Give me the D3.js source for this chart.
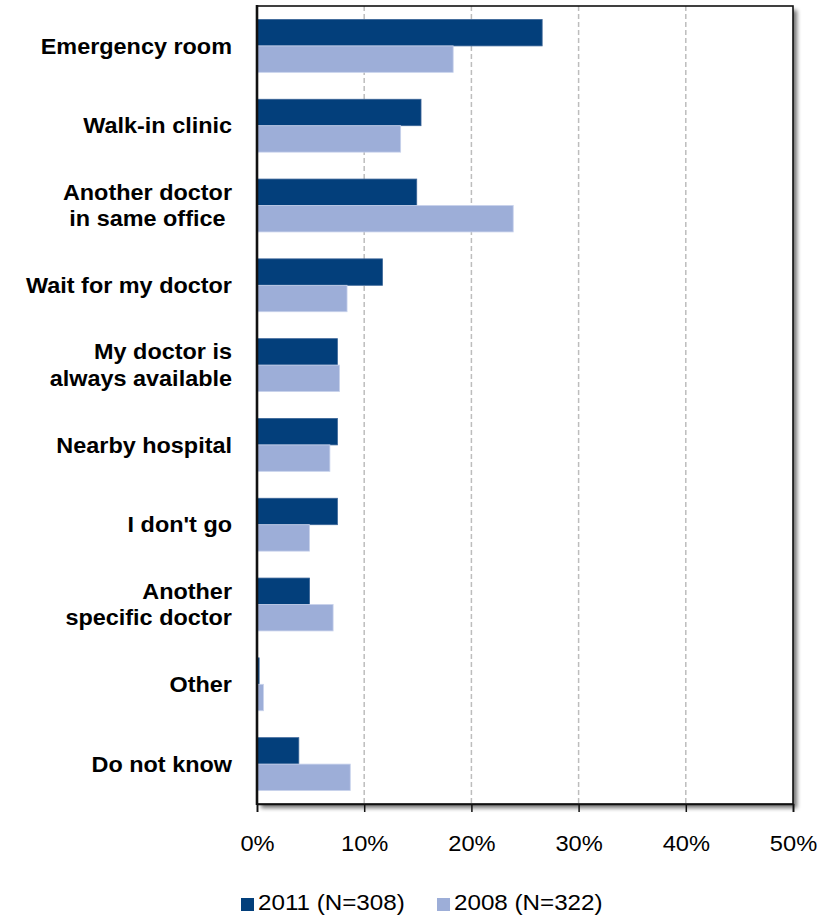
<!DOCTYPE html>
<html>
<head>
<meta charset="utf-8">
<script src="https://cdn.jsdelivr.net/npm/d3@7/dist/d3.min.js"></script>
<style>
  html, body { margin: 0; padding: 0; background: #ffffff; }
  svg { display: block; }
  text { font-family: "Liberation Sans", Arial, sans-serif; }
</style>
</head>
<body>
<svg id="chart" width="835" height="917"></svg>
<script>
// ---- Data ----
const categories = [
  ["Emergency room"],
  ["Walk-in clinic"],
  ["Another doctor", "in same office "],
  ["Wait for my doctor"],
  ["My doctor is", "always available"],
  ["Nearby hospital"],
  ["I don't go"],
  ["Another", "specific doctor"],
  ["Other"],
  ["Do not know"]
];
const seriesNames = ["2011 (N=308)", "2008 (N=322)"];
const values2011 = [26.6, 15.3, 14.9, 11.7, 7.5, 7.5, 7.5, 4.9, 0.2, 3.9];
const values2008 = [18.3, 13.4, 23.9, 8.4, 7.7, 6.8, 4.9, 7.1, 0.6, 8.7];
const xTicks = [0, 10, 20, 30, 40, 50];
const colors = ["#033f7b", "#9daed8"];

// ---- Layout ----
const svg = d3.select("#chart");
const plotLeft = 257, plotRight = 793, plotTop = 6, plotBottom = 804;
const sx = 1.09; // horizontal text stretch seen in the reference

const defs = svg.append("defs");
const f = defs.append("filter").attr("id", "shadow")
  .attr("x", "-5%").attr("y", "-5%").attr("width", "115%").attr("height", "115%");
f.append("feGaussianBlur").attr("in", "SourceAlpha").attr("stdDeviation", 2.2).attr("result", "b");
f.append("feOffset").attr("in", "b").attr("dx", 4).attr("dy", 4).attr("result", "o");
f.append("feComponentTransfer").attr("in", "o").attr("result", "c")
  .append("feFuncA").attr("type", "linear").attr("slope", 0.55);
const fm = f.append("feMerge");
fm.append("feMergeNode").attr("in", "c");
fm.append("feMergeNode").attr("in", "SourceGraphic");

const x = d3.scaleLinear().domain([0, 50]).range([plotLeft, plotRight]);
const y = d3.scaleBand().domain(d3.range(categories.length))
  .range([plotTop, plotBottom]).paddingInner(0.3375).paddingOuter(0.16875);
const ySub = d3.scaleBand().domain([0, 1]).range([0, y.bandwidth()]);

// plot background with shadow
svg.append("rect")
  .attr("x", plotLeft).attr("y", plotTop).attr("width", plotRight - plotLeft).attr("height", plotBottom - plotTop)
  .attr("fill", "#ffffff").attr("filter", "url(#shadow)");

// gridlines
svg.append("g").selectAll("line").data(xTicks.filter(t => t > 0 && t < 50)).join("line")
  .attr("x1", d => x(d)).attr("x2", d => x(d))
  .attr("y1", plotTop).attr("y2", plotBottom)
  .attr("stroke", "#bdbdbd").attr("stroke-width", 1.5).attr("stroke-dasharray", "5,3");

// bars
const series = [values2011, values2008];
series.forEach((vals, si) => {
  svg.append("g").selectAll("rect").data(vals).join("rect")
    .attr("x", x(0))
    .attr("y", (d, i) => y(i) + ySub(si))
    .attr("width", d => x(d) - x(0))
    .attr("height", ySub.bandwidth())
    .attr("fill", colors[si])
    .attr("stroke", si === 0 ? "#3a6497" : "#c8d2ec")
    .attr("stroke-width", 0.8);
});

// frame
svg.append("rect")
  .attr("x", plotLeft).attr("y", plotTop).attr("width", plotRight - plotLeft).attr("height", plotBottom - plotTop)
  .attr("fill", "none").attr("stroke", "#111").attr("stroke-width", 1.6);
svg.append("line")
  .attr("x1", plotLeft).attr("x2", plotLeft).attr("y1", plotTop - 1).attr("y2", plotBottom + 1)
  .attr("stroke", "#111").attr("stroke-width", 2.6);

// bottom axis
const xAxis = d3.axisBottom(x).tickValues(xTicks).tickSize(8).tickFormat(d => d + "%");
const ax = svg.append("g").attr("transform", `translate(0,${plotBottom})`).call(xAxis);
ax.select(".domain").attr("stroke", "#111").attr("stroke-width", 1.6);
ax.selectAll(".tick line").attr("stroke", "#111").attr("stroke-width", 1.5);
ax.selectAll(".tick text")
  .attr("y", 0).attr("dy", 0)
  .attr("transform", `translate(0,47) scale(1.1,1)`)
  .attr("font-size", 21.5).attr("fill", "#000")
  .attr("font-family", "'Liberation Sans', Arial, sans-serif");

// category labels
const fs = 21.5, lh = 26.7;
const lab = svg.append("g");
categories.forEach((lines, i) => {
  const cy = y(i) + y.bandwidth() / 2;
  const n = lines.length;
  lines.forEach((t, j) => {
    const base = cy + (j - (n - 1) / 2) * lh + fs * 0.355;
    lab.append("text")
      .attr("transform", `translate(232,${base}) scale(${sx},1)`)
      .attr("text-anchor", "end")
      .attr("font-size", fs).attr("font-weight", "bold").attr("fill", "#000")
      .style("white-space", "pre")
      .text(t);
  });
});

// legend
const legendX = [241, 437];
const lg = svg.append("g");
seriesNames.forEach((name, i) => {
  lg.append("rect").attr("x", legendX[i]).attr("y", 898)
    .attr("width", 13).attr("height", 13).attr("fill", colors[i]);
  lg.append("text")
    .attr("transform", `translate(${legendX[i] + 17},910) scale(1.1,1)`)
    .attr("font-size", 22).attr("fill", "#000")
    .text(name);
});
</script>
</body>
</html>
